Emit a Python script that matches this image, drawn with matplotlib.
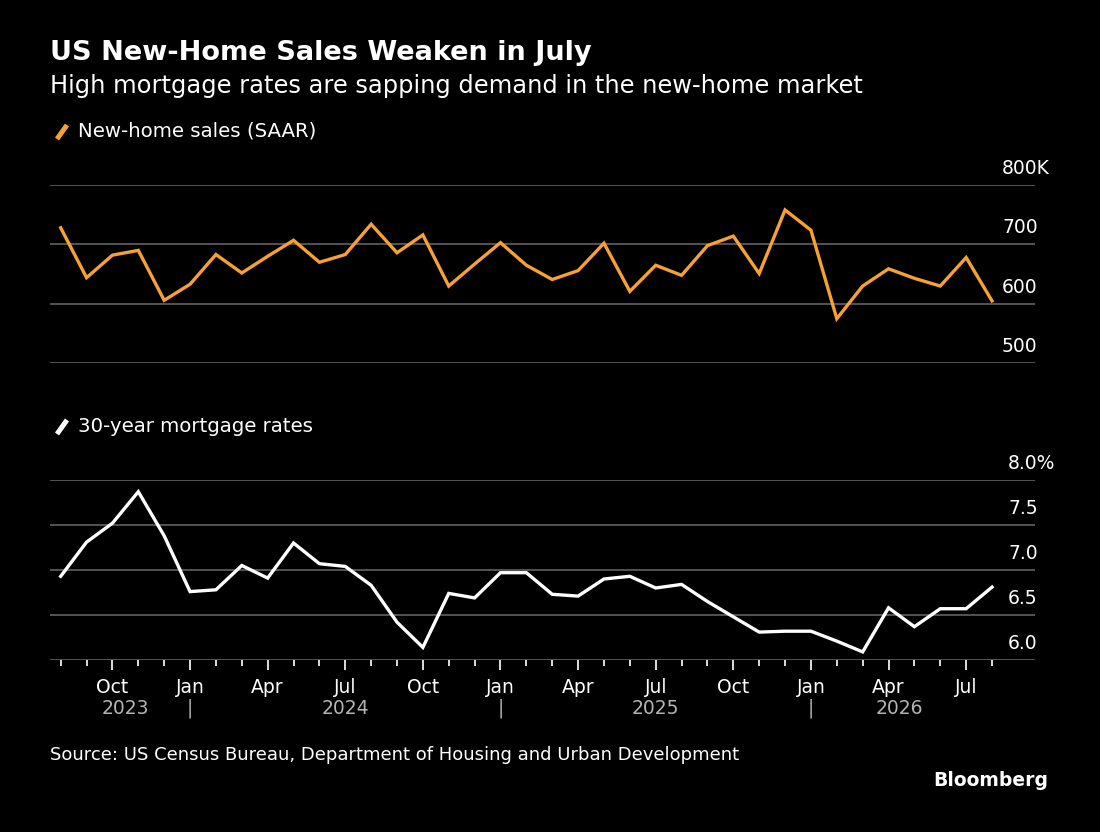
import matplotlib
matplotlib.use("Agg")
import matplotlib.pyplot as plt
from matplotlib.lines import Line2D

# monthly data, Aug 2023 .. Aug 2026
months = ["Aug 2023", "Sep 2023", "Oct 2023", "Nov 2023", "Dec 2023",
          "Jan 2024", "Feb 2024", "Mar 2024", "Apr 2024", "May 2024", "Jun 2024",
          "Jul 2024", "Aug 2024", "Sep 2024", "Oct 2024", "Nov 2024", "Dec 2024",
          "Jan 2025", "Feb 2025", "Mar 2025", "Apr 2025", "May 2025", "Jun 2025",
          "Jul 2025", "Aug 2025", "Sep 2025", "Oct 2025", "Nov 2025", "Dec 2025",
          "Jan 2026", "Feb 2026", "Mar 2026", "Apr 2026", "May 2026", "Jun 2026",
          "Jul 2026", "Aug 2026"]

# new-home sales, thousands (SAAR)
sales = [728, 644, 682, 690, 606, 633, 683, 652, 680, 707, 670, 683, 734,
         686, 716, 630, 667, 703, 665, 641, 656, 702, 621, 665, 648, 698,
         714, 651, 758, 724, 575, 630, 659, 643, 630, 678, 605]

# 30-year mortgage rate, %
rates = [6.93, 7.31, 7.52, 7.87, 7.38, 6.76, 6.78, 7.05, 6.91, 7.30, 7.07,
         7.04, 6.83, 6.42, 6.14, 6.74, 6.69, 6.97, 6.97, 6.73, 6.71, 6.90,
         6.93, 6.80, 6.84, 6.65, 6.48, 6.31, 6.32, 6.32, 6.21, 6.09, 6.58,
         6.37, 6.57, 6.57, 6.81]

sales_ticks = [500, 600, 700, 800]
sales_labels = ["500", "600", "700", "800K"]
rate_ticks = [6.0, 6.5, 7.0, 7.5, 8.0]
rate_labels = ["6.0", "6.5", "7.0", "7.5", "8.0%"]

quarter_idx = [2, 5, 8, 11, 14, 17, 20, 23, 26, 29, 32, 35]
quarter_labels = [months[i][:3] for i in quarter_idx]
year_labels = ["2023", "2024", "2025", "2026"]
year_pos = [2.5, 11, 23, 32.4]
jan_idx = [5, 17, 29]

BG = "black"
ORANGE = "#f7a033"
GRID = "#5a5a5a"
GREY = "#b4b4b4"

W, H = 1100, 832
fig = plt.figure(figsize=(W / 100, H / 100), dpi=100, facecolor=BG)

x = list(range(len(months)))
xlim = ((50 - 60.7) / 25.87, (1035 - 60.7) / 25.87)


def px_axes(left, right, top, bottom):
    return fig.add_axes([left / W, 1 - bottom / H, (right - left) / W, (bottom - top) / H])


def style(ax, ticks, labels, lab_x):
    ax.set_facecolor(BG)
    ax.set_xlim(*xlim)
    ax.set_ylim(ticks[0], ticks[-1])
    for s in ax.spines.values():
        s.set_visible(False)
    for t in ticks:
        ax.axhline(t, color=GRID, lw=1.3, zorder=1)
    ax.set_yticks([])
    for t, lab in zip(ticks, labels):
        ax.annotate(lab, xy=(lab_x, t), xycoords=("axes fraction", "data"),
                    xytext=(0, 5), textcoords="offset points",
                    ha="left", va="bottom", color="white", fontsize=13.5)


# top panel: new-home sales
ax1 = px_axes(50, 1035, 185, 363.3)
style(ax1, sales_ticks, sales_labels, (1002 - 50) / 985)
ax1.plot(x, sales, color=ORANGE, lw=2.4, zorder=3, solid_joinstyle="miter")
ax1.set_xticks([])

# bottom panel: mortgage rates
ax2 = px_axes(50, 1035, 480, 660)
style(ax2, rate_ticks, rate_labels, (1008 - 50) / 985)
ax2.plot(x, rates, color="white", lw=2.4, zorder=3, solid_joinstyle="miter")
ax2.set_xticks(quarter_idx)
ax2.set_xticklabels(quarter_labels, color="white", fontsize=13.5)
ax2.set_xticks(x, minor=True)
ax2.tick_params(axis="x", which="major", length=7, width=1.4, color="#dddddd", pad=6)
ax2.tick_params(axis="x", which="minor", length=4, width=1.4, color="#dddddd")

for lab, p in zip(year_labels, year_pos):
    ax2.text(p, -0.27, lab, transform=ax2.get_xaxis_transform(), ha="center",
             va="center", color=GREY, fontsize=13.5)
for j in jan_idx:
    ax2.text(j, -0.27, "|", transform=ax2.get_xaxis_transform(), ha="center",
             va="center", color=GREY, fontsize=13.5)

# titles
fig.text(50 / W, 1 - 53 / H, "US New-Home Sales Weaken in July", color="white",
         fontsize=19.5, fontweight="bold", va="center", ha="left")
fig.text(50 / W, 1 - 86 / H, "High mortgage rates are sapping demand in the new-home market",
         color="white", fontsize=17.4, va="center", ha="left")

# legends
fig.add_artist(Line2D([57 / W, 67 / W], [1 - 139 / H, 1 - 125 / H], color=ORANGE,
                      lw=3.6, solid_capstyle="butt"))
fig.text(78 / W, 1 - 131 / H, "New-home sales (SAAR)", color="white", fontsize=14.2,
         va="center", ha="left")
fig.add_artist(Line2D([57 / W, 67 / W], [1 - 434 / H, 1 - 420 / H], color="white",
                      lw=3.6, solid_capstyle="butt"))
fig.text(78 / W, 1 - 427 / H, "30-year mortgage rates", color="white", fontsize=14.2,
         va="center", ha="left")

# footer
fig.text(50 / W, 1 - 755 / H,
         "Source: US Census Bureau, Department of Housing and Urban Development",
         color="white", fontsize=13, va="center", ha="left")
fig.text(1048 / W, 1 - 781 / H, "Bloomberg", color="white", fontsize=13.5,
         fontweight="bold", va="center", ha="right")

fig.savefig("out.png", dpi=100, facecolor=BG)
